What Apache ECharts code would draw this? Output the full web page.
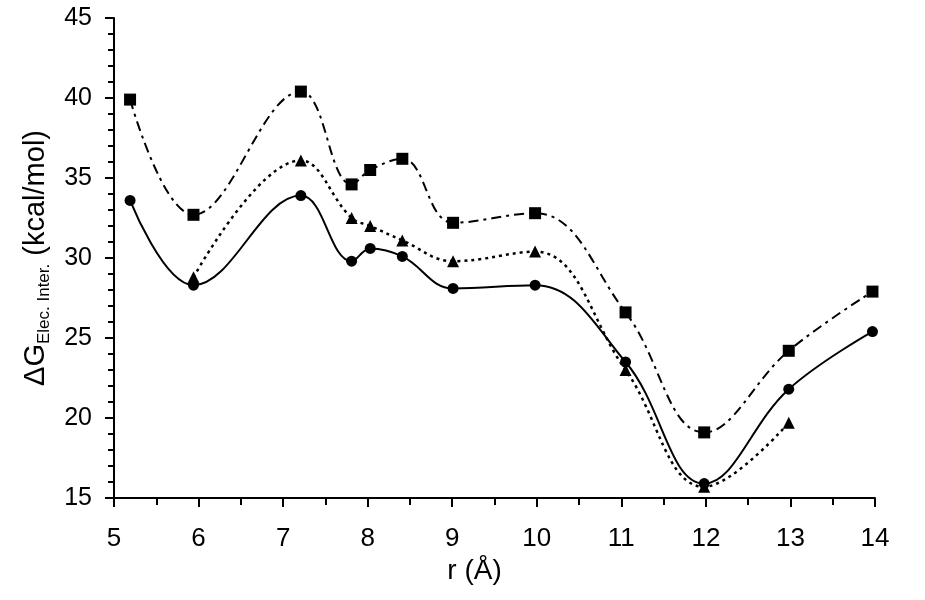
<!DOCTYPE html>
<html>
<head>
<meta charset="utf-8">
<script src="https://cdn.jsdelivr.net/npm/echarts@6/dist/echarts.min.js"></script>
<style>
  html, body { margin: 0; padding: 0; background: #fff; }
  #chart { width: 925px; height: 600px; }
</style>
</head>
<body>
<div id="chart"></div>
<script>
// r values (Å)
var rAll = [5.19, 5.94, 7.21, 7.81, 8.03, 8.41, 9.01, 9.98, 11.05, 11.98, 12.98, 13.97];
var rTri = [5.94, 7.21, 7.81, 8.03, 8.41, 9.01, 9.98, 11.05, 11.98, 12.98];
// ΔG values (kcal/mol)
var squares = [39.9, 32.7, 40.4, 34.6, 35.5, 36.2, 32.2, 32.8, 26.6, 19.1, 24.2, 27.9];
var circles = [33.6, 28.3, 33.9, 29.8, 30.6, 30.1, 28.1, 28.3, 23.5, 15.9, 21.8, 25.4];
var triangles = [28.8, 36.1, 32.5, 32.0, 31.1, 29.8, 30.4, 23.0, 15.7, 19.7];

function pairs(xs, ys) {
  return xs.map(function (x, i) { return [x, ys[i]]; });
}

var font = "Liberation Sans, Arial, sans-serif";
var ink = "#000";

var chart = echarts.init(document.getElementById("chart"));
var option = {
  animation: false,
  grid: { left: 114, right: 50, top: 18, bottom: 102 },
  xAxis: {
    type: "value",
    min: 5, max: 14, interval: 1,
    name: "r (Å)",
    nameLocation: "middle",
    nameGap: 58,
    nameTextStyle: { fontFamily: font, fontSize: 28, color: ink, padding: [0, 40, 0, 0] },
    axisLine: { lineStyle: { color: ink, width: 2 } },
    axisTick: { inside: false, length: 9, lineStyle: { color: ink, width: 2 } },
    minorTick: { show: true, splitNumber: 2, length: 7, lineStyle: { color: ink, width: 2 } },
    axisLabel: { fontFamily: font, fontSize: 26, color: ink, margin: 28 },
    splitLine: { show: false }
  },
  yAxis: {
    type: "value",
    min: 15, max: 45, interval: 5,
    name: "{a|ΔG}{b|Elec. Inter.}{a| (kcal/mol)}",
    nameLocation: "middle",
    nameGap: 59,
    nameRotate: 90,
    nameTextStyle: {
      fontFamily: font, color: ink,
      rich: {
        a: { fontFamily: font, fontSize: 29, color: ink, lineHeight: 32, verticalAlign: "top" },
        b: { fontFamily: font, fontSize: 17, color: ink, lineHeight: 17, padding: [27, 0, 0, 0], verticalAlign: "bottom" }
      }
    },
    axisLine: { show: true, lineStyle: { color: ink, width: 2 } },
    axisTick: { show: true, inside: false, length: 9, lineStyle: { color: ink, width: 2 } },
    minorTick: { show: true, splitNumber: 5, length: 6, lineStyle: { color: ink, width: 2 } },
    axisLabel: { fontFamily: font, fontSize: 25, color: ink, margin: 22 },
    splitLine: { show: false }
  },
  series: [
    {
      name: "squares",
      type: "line",
      data: pairs(rAll, squares),
      smooth: 0.4,
      symbol: "rect",
      symbolSize: 12,
      itemStyle: { color: ink },
      lineStyle: { color: ink, width: 2, type: [10, 5, 3, 5] }
    },
    {
      name: "triangles",
      type: "line",
      data: pairs(rTri, triangles),
      smooth: 0.4,
      symbol: "triangle",
      symbolSize: 12,
      itemStyle: { color: ink },
      lineStyle: { color: ink, width: 2.5, type: [3, 4] }
    },
    {
      name: "circles",
      type: "line",
      data: pairs(rAll, circles),
      smooth: 0.4,
      symbol: "circle",
      symbolSize: 11,
      itemStyle: { color: ink },
      lineStyle: { color: ink, width: 2, type: "solid" }
    }
  ]
};
chart.setOption(option);
</script>
</body>
</html>
